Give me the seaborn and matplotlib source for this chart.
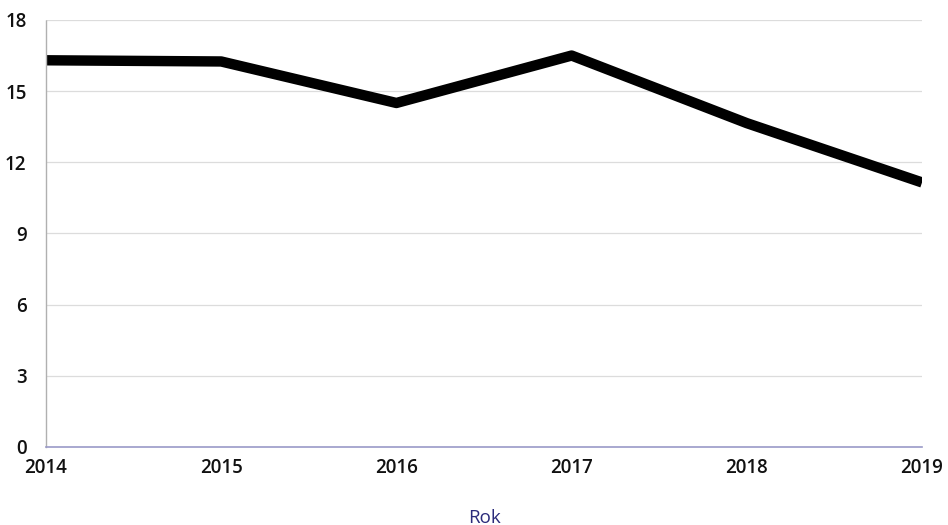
import seaborn as sns
import matplotlib.pyplot as plt
import pandas as pd

# data
years = [2014, 2015, 2016, 2017, 2018, 2019]
values = [16.3, 16.25, 14.5, 16.5, 13.65, 11.15]
y_ticks = [0, 3, 6, 9, 12, 15, 18]

df = pd.DataFrame({'Rok': years, 'Wartosc': values})

sns.set_theme(style='white')
plt.rcParams['font.family'] = ['Open Sans', 'DejaVu Sans']

fig = plt.figure(figsize=(9.48, 5.25), dpi=100)
ax = fig.add_axes([0.0485, 0.1486, 0.9241, 0.8134])

sns.lineplot(data=df, x='Rok', y='Wartosc', color='black', linewidth=7.5,
             solid_capstyle='butt', ax=ax)

ax.set_xlim(2014, 2019)
ax.set_ylim(0, 18)
ax.set_yticks(y_ticks)
ax.set_xticks(years)
ax.grid(axis='y', color='#dcdcdc', linewidth=0.9)
ax.grid(axis='x', visible=False)

for s in ['top', 'right']:
    ax.spines[s].set_visible(False)
ax.spines['left'].set_color('#b0b0b0')
ax.spines['left'].set_linestyle((0, (1, 1)))
ax.spines['left'].set_linewidth(1)
ax.spines['bottom'].set_color('#9a9ac8')
ax.spines['bottom'].set_linewidth(1.2)

ax.tick_params(axis='both', length=0, labelsize=13.5, colors='#111111')
ax.tick_params(axis='y', pad=14)
ax.tick_params(axis='x', pad=8)
for lbl in ax.get_xticklabels() + ax.get_yticklabels():
    lbl.set_fontweight('semibold')

ax.set_ylabel('')
ax.set_xlabel('Rok', fontsize=13.5, color='#2a2a7a', labelpad=22)

fig.savefig('out.png', dpi=100)
